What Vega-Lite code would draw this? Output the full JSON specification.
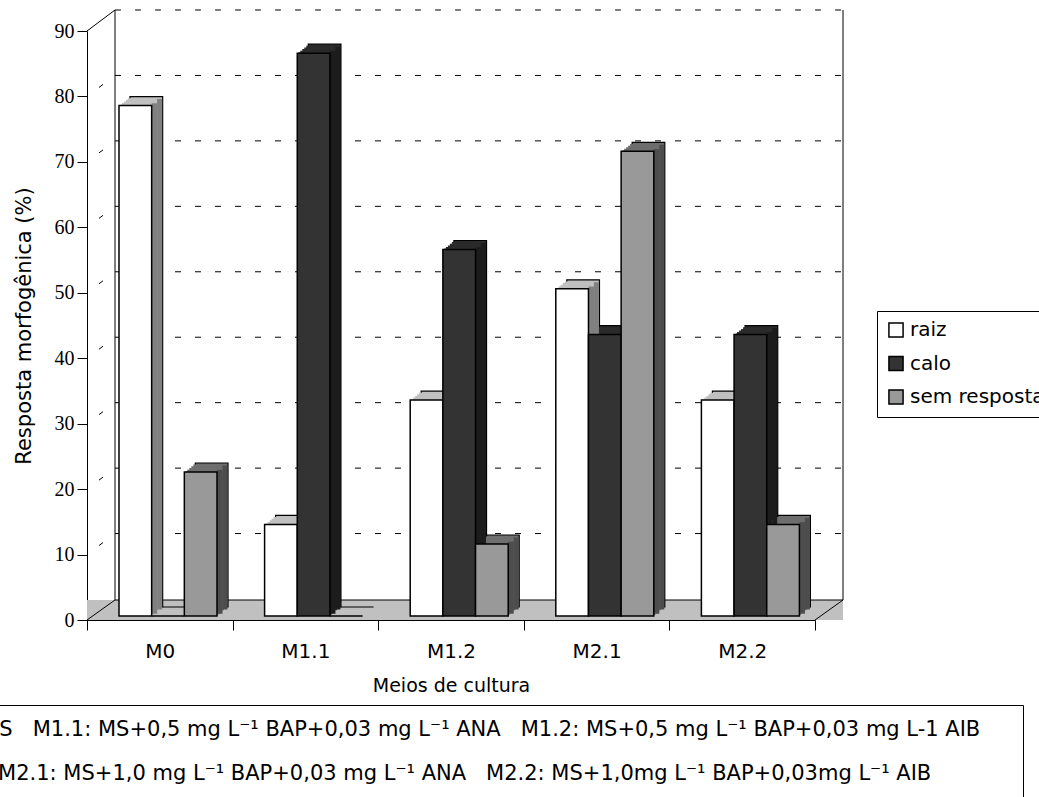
{
  "$schema": "https://vega.github.io/schema/vega-lite/v6.json",
  "width": 728,
  "height": 589,
  "autosize": {"type": "none"},
  "padding": {"left": 87, "top": 31, "right": 224, "bottom": 177},
  "background": "white",
  "config": {"view": {"stroke": null}, "font": "DejaVu Sans"},
  "datasets": {
    "bars": [
      {"meio": "M0", "serie": "raiz", "valor": 78},
      {"meio": "M0", "serie": "calo", "valor": 0},
      {"meio": "M0", "serie": "sem resposta", "valor": 22},
      {"meio": "M1.1", "serie": "raiz", "valor": 14},
      {"meio": "M1.1", "serie": "calo", "valor": 86},
      {"meio": "M1.1", "serie": "sem resposta", "valor": 0},
      {"meio": "M1.2", "serie": "raiz", "valor": 33},
      {"meio": "M1.2", "serie": "calo", "valor": 56},
      {"meio": "M1.2", "serie": "sem resposta", "valor": 11},
      {"meio": "M2.1", "serie": "raiz", "valor": 50},
      {"meio": "M2.1", "serie": "calo", "valor": 43},
      {"meio": "M2.1", "serie": "sem resposta", "valor": 71},
      {"meio": "M2.2", "serie": "raiz", "valor": 33},
      {"meio": "M2.2", "serie": "calo", "valor": 43},
      {"meio": "M2.2", "serie": "sem resposta", "valor": 14}
    ],
    "ticks": [{"v": 10}, {"v": 20}, {"v": 30}, {"v": 40}, {"v": 50}, {"v": 60}, {"v": 70}, {"v": 80}, {"v": 90}],
    "sideticks": [{"v": 10}, {"v": 20}, {"v": 30}, {"v": 40}, {"v": 50}, {"v": 60}, {"v": 70}, {"v": 80}],
    "frame": [{}],
    "notes": [
      {"nota": "M0: MS\u00a0\u00a0\u00a0M1.1: MS+0,5 mg L⁻¹ BAP+0,03 mg L⁻¹ ANA\u00a0\u00a0\u00a0M1.2: MS+0,5 mg L⁻¹ BAP+0,03 mg L-1 AIB\u00a0\u00a0\u2800"},
      {"nota": "\u2800\u00a0\u00a0\u00a0\u00a0\u00a0\u00a0\u00a0M2.1: MS+1,0 mg L⁻¹ BAP+0,03 mg L⁻¹ ANA\u00a0\u00a0\u00a0M2.2: MS+1,0mg L⁻¹ BAP+0,03mg L⁻¹ AIB"}
    ]
  },
  "resolve": {"scale": {"x": "independent", "xOffset": "independent", "fill": "independent"}, "axis": {"x": "independent"}},
  "layer": [
    {
      "data": {"name": "frame"},
      "mark": {"type": "rect", "fill": "#c0c0c0", "strokeWidth": 0, "x2Offset": 28, "y2Offset": -20},
      "encoding": {
        "x": {"datum": 0, "type": "quantitative", "scale": {"domain": [0, 1], "nice": false, "zero": false}, "axis": null},
        "x2": {"datum": 1},
        "y": {"datum": 0, "type": "quantitative"},
        "y2": {"datum": 0}
      }
    },
    {
      "data": {"name": "frame"},
      "mark": {"type": "rule", "color": "black", "strokeWidth": 1, "xOffset": 28, "x2Offset": 28, "yOffset": -20, "y2Offset": -20},
      "encoding": {
        "x": {"datum": 0, "type": "quantitative", "scale": {"domain": [0, 1], "nice": false, "zero": false}, "axis": null},
        "x2": {"datum": 1},
        "y": {"datum": 0, "type": "quantitative"},
        "y2": {"datum": 0}
      }
    },
    {
      "data": {"name": "frame"},
      "mark": {"type": "rule", "color": "black", "strokeWidth": 1, "x2Offset": 28, "y2Offset": -20},
      "encoding": {
        "x": {"datum": 0, "type": "quantitative", "scale": {"domain": [0, 1], "nice": false, "zero": false}, "axis": null},
        "x2": {"datum": 0},
        "y": {"datum": 0, "type": "quantitative"},
        "y2": {"datum": 0}
      }
    },
    {
      "data": {"name": "frame"},
      "mark": {"type": "rule", "color": "black", "strokeWidth": 1, "x2Offset": 28, "y2Offset": -20},
      "encoding": {
        "x": {"datum": 1, "type": "quantitative", "scale": {"domain": [0, 1], "nice": false, "zero": false}, "axis": null},
        "x2": {"datum": 1},
        "y": {"datum": 0, "type": "quantitative"},
        "y2": {"datum": 0}
      }
    },
    {
      "data": {"name": "frame"},
      "mark": {"type": "rule", "color": "black", "strokeWidth": 1, "x2Offset": 28, "y2Offset": -21},
      "encoding": {
        "x": {"datum": 0, "type": "quantitative", "scale": {"domain": [0, 1], "nice": false, "zero": false}, "axis": null},
        "x2": {"datum": 0},
        "y": {"datum": 90, "type": "quantitative"},
        "y2": {"datum": 90}
      }
    },
    {
      "data": {"name": "frame"},
      "mark": {"type": "rule", "color": "black", "strokeWidth": 1, "xOffset": 28, "yOffset": -20, "y2Offset": -21},
      "encoding": {
        "x": {"datum": 0, "type": "quantitative", "scale": {"domain": [0, 1], "nice": false, "zero": false}, "axis": null},
        "y": {"datum": 0, "type": "quantitative"},
        "y2": {"datum": 90}
      }
    },
    {
      "data": {"name": "frame"},
      "mark": {"type": "rule", "color": "black", "strokeWidth": 1, "xOffset": 28, "yOffset": -20, "y2Offset": -21},
      "encoding": {
        "x": {"datum": 1, "type": "quantitative", "scale": {"domain": [0, 1], "nice": false, "zero": false}, "axis": null},
        "y": {"datum": 0, "type": "quantitative"},
        "y2": {"datum": 90}
      }
    },
    {
      "data": {"name": "ticks"},
      "mark": {"type": "rule", "color": "black", "strokeWidth": 1, "strokeDash": [6, 14], "xOffset": 28, "x2Offset": 28, "yOffset": -21, "y2Offset": -21},
      "encoding": {
        "x": {"datum": 0, "type": "quantitative", "scale": {"domain": [0, 1], "nice": false, "zero": false}, "axis": null},
        "x2": {"datum": 1},
        "y": {"field": "v", "type": "quantitative"},
        "y2": {"field": "v"}
      }
    },
    {
      "data": {"name": "sideticks"},
      "mark": {"type": "rule", "color": "black", "strokeWidth": 1, "strokeDash": [0, 15, 5, 30], "x2Offset": 28, "y2Offset": -21},
      "encoding": {
        "x": {"datum": 0, "type": "quantitative", "scale": {"domain": [0, 1], "nice": false, "zero": false}, "axis": null},
        "x2": {"datum": 0},
        "y": {"field": "v", "type": "quantitative"},
        "y2": {"field": "v"}
      }
    },
    {
      "data": {"name": "bars"},
      "mark": {"type": "bar", "stroke": "black", "strokeWidth": 1.2, "yOffset": -13, "y2Offset": -13},
      "encoding": {
        "x": {"field": "meio", "type": "nominal", "sort": null, "scale": {"paddingInner": 0, "paddingOuter": 0}, "axis": null},
        "xOffset": {"field": "serie", "sort": ["raiz", "calo", "sem resposta"], "scale": {"range": [43, 141], "paddingInner": 0, "paddingOuter": 0}},
        "y": {"field": "valor", "type": "quantitative", "scale": {"domain": [0, 90], "nice": false}},
        "fill": {"field": "serie", "scale": {"domain": ["raiz", "calo", "sem resposta"], "range": ["#c0c0c0", "#2a2a2a", "#6e6e6e"]}, "legend": null}
      }
    },
    {
      "data": {"name": "bars"},
      "mark": {"type": "bar", "strokeWidth": 0, "yOffset": -11.4, "y2Offset": -11.4},
      "encoding": {
        "x": {"field": "meio", "type": "nominal", "sort": null, "scale": {"paddingInner": 0, "paddingOuter": 0}, "axis": null},
        "xOffset": {"field": "serie", "sort": ["raiz", "calo", "sem resposta"], "scale": {"range": [41, 139], "paddingInner": 0, "paddingOuter": 0}},
        "y": {"field": "valor", "type": "quantitative"},
        "fill": {"field": "serie", "scale": {"domain": ["raiz", "calo", "sem resposta"], "range": ["#c0c0c0", "#2a2a2a", "#6e6e6e"]}, "legend": null}
      }
    },
    {
      "data": {"name": "bars"},
      "mark": {"type": "bar", "strokeWidth": 0, "yOffset": -9.7, "y2Offset": -9.7},
      "encoding": {
        "x": {"field": "meio", "type": "nominal", "sort": null, "scale": {"paddingInner": 0, "paddingOuter": 0}, "axis": null},
        "xOffset": {"field": "serie", "sort": ["raiz", "calo", "sem resposta"], "scale": {"range": [39, 137], "paddingInner": 0, "paddingOuter": 0}},
        "y": {"field": "valor", "type": "quantitative"},
        "fill": {"field": "serie", "scale": {"domain": ["raiz", "calo", "sem resposta"], "range": ["#c0c0c0", "#2a2a2a", "#6e6e6e"]}, "legend": null}
      }
    },
    {
      "data": {"name": "bars"},
      "mark": {"type": "bar", "strokeWidth": 0, "yOffset": -8.1, "y2Offset": -8.1},
      "encoding": {
        "x": {"field": "meio", "type": "nominal", "sort": null, "scale": {"paddingInner": 0, "paddingOuter": 0}, "axis": null},
        "xOffset": {"field": "serie", "sort": ["raiz", "calo", "sem resposta"], "scale": {"range": [37, 135], "paddingInner": 0, "paddingOuter": 0}},
        "y": {"field": "valor", "type": "quantitative"},
        "fill": {"field": "serie", "scale": {"domain": ["raiz", "calo", "sem resposta"], "range": ["#c0c0c0", "#2a2a2a", "#6e6e6e"]}, "legend": null}
      }
    },
    {
      "data": {"name": "bars"},
      "mark": {"type": "bar", "strokeWidth": 0, "yOffset": -6.5, "y2Offset": -6.5},
      "encoding": {
        "x": {"field": "meio", "type": "nominal", "sort": null, "scale": {"paddingInner": 0, "paddingOuter": 0}, "axis": null},
        "xOffset": {"field": "serie", "sort": ["raiz", "calo", "sem resposta"], "scale": {"range": [35, 133], "paddingInner": 0, "paddingOuter": 0}},
        "y": {"field": "valor", "type": "quantitative"},
        "fill": {"field": "serie", "scale": {"domain": ["raiz", "calo", "sem resposta"], "range": ["#c0c0c0", "#2a2a2a", "#6e6e6e"]}, "legend": null}
      }
    },
    {
      "data": {"name": "bars"},
      "mark": {"type": "bar", "strokeWidth": 0, "yOffset": -5, "y2Offset": -5},
      "encoding": {
        "x": {"field": "meio", "type": "nominal", "sort": null, "scale": {"paddingInner": 0, "paddingOuter": 0}, "axis": null},
        "xOffset": {"field": "serie", "sort": ["raiz", "calo", "sem resposta"], "scale": {"range": [33.5, 131.5], "paddingInner": 0, "paddingOuter": 0}},
        "y": {"field": "valor", "type": "quantitative"},
        "fill": {"field": "serie", "scale": {"domain": ["raiz", "calo", "sem resposta"], "range": ["#c0c0c0", "#2a2a2a", "#6e6e6e"]}, "legend": null}
      }
    },
    {
      "data": {"name": "bars"},
      "mark": {"type": "bar", "strokeWidth": 0, "width": 5.5, "yOffset": -6.3, "y2Offset": -6.3},
      "encoding": {
        "x": {"field": "meio", "type": "nominal", "sort": null, "scale": {"paddingInner": 0, "paddingOuter": 0}, "axis": null},
        "xOffset": {"field": "serie", "sort": ["raiz", "calo", "sem resposta"], "scale": {"range": [51.1, 149.1], "paddingInner": 0, "paddingOuter": 0}},
        "y": {"field": "valor", "type": "quantitative"},
        "fill": {"field": "serie", "scale": {"domain": ["raiz", "calo", "sem resposta"], "range": ["#808080", "#1c1c1c", "#4d4d4d"]}, "legend": null}
      }
    },
    {
      "data": {"name": "bars"},
      "mark": {"type": "bar", "strokeWidth": 0, "width": 5, "yOffset": -10.5, "y2Offset": -10.5},
      "encoding": {
        "x": {"field": "meio", "type": "nominal", "sort": null, "scale": {"paddingInner": 0, "paddingOuter": 0}, "axis": null},
        "xOffset": {"field": "serie", "sort": ["raiz", "calo", "sem resposta"], "scale": {"range": [56.3, 154.3], "paddingInner": 0, "paddingOuter": 0}},
        "y": {"field": "valor", "type": "quantitative"},
        "fill": {"field": "serie", "scale": {"domain": ["raiz", "calo", "sem resposta"], "range": ["#808080", "#1c1c1c", "#4d4d4d"]}, "legend": null}
      }
    },
    {
      "data": {"name": "bars"},
      "mark": {"type": "bar", "stroke": "black", "strokeWidth": 1.5, "yOffset": -4, "y2Offset": -4},
      "encoding": {
        "x": {
          "field": "meio", "type": "nominal", "sort": null,
          "scale": {"paddingInner": 0, "paddingOuter": 0},
          "axis": {
            "title": "Meios de cultura", "orient": "bottom", "labelAngle": 0, "tickBand": "extent", "tickSize": 10,
            "domainColor": "black", "tickColor": "black", "labelColor": "black", "titleColor": "black",
            "labelFont": "DejaVu Sans", "labelFontSize": 20, "labelPadding": 11,
            "titleFont": "DejaVu Sans", "titleFontSize": 19, "titleFontWeight": "normal", "titlePadding": 15
          }
        },
        "xOffset": {"field": "serie", "sort": ["raiz", "calo", "sem resposta"], "scale": {"range": [32, 130], "paddingInner": 0, "paddingOuter": 0}},
        "y": {
          "field": "valor", "type": "quantitative",
          "axis": {
            "title": "Resposta morfogênica (%)", "orient": "left", "values": [0, 10, 20, 30, 40, 50, 60, 70, 80, 90], "grid": false,
            "domainColor": "black", "tickColor": "black", "tickSize": 10, "labelColor": "black", "titleColor": "black",
            "labelFont": "Liberation Serif", "labelFontSize": 20, "labelPadding": 3,
            "titleFont": "DejaVu Sans", "titleFontSize": 21, "titleFontWeight": "normal", "titlePadding": 20
          }
        },
        "fill": {
          "field": "serie",
          "scale": {"domain": ["raiz", "calo", "sem resposta"], "range": ["#ffffff", "#333333", "#999999"]},
          "legend": {
            "title": null, "orient": "none", "legendX": 790, "legendY": 280,
            "strokeColor": "black", "fillColor": "white", "padding": 9,
            "symbolType": "square", "symbolSize": 200, "symbolStrokeColor": "black", "symbolStrokeWidth": 1.5,
            "labelFont": "DejaVu Sans", "labelFontSize": 20, "labelColor": "black", "labelOffset": 4, "labelLimit": 0, "rowPadding": 11.5
          }
        }
      }
    },
    {
      "data": {"name": "notes"},
      "mark": {"type": "point", "opacity": 0},
      "encoding": {
        "shape": {
          "field": "nota", "type": "nominal", "sort": null,
          "legend": {
            "title": null, "orient": "none", "legendX": -186, "legendY": 674,
            "strokeColor": "black", "fillColor": "white", "padding": 14,
            "symbolSize": 0, "symbolStrokeWidth": 0, "symbolOpacity": 0, "labelOffset": 0,
            "labelFont": "DejaVu Sans", "labelFontSize": 21, "labelColor": "black", "labelLimit": 0, "rowPadding": 22
          }
        }
      }
    }
  ]
}
